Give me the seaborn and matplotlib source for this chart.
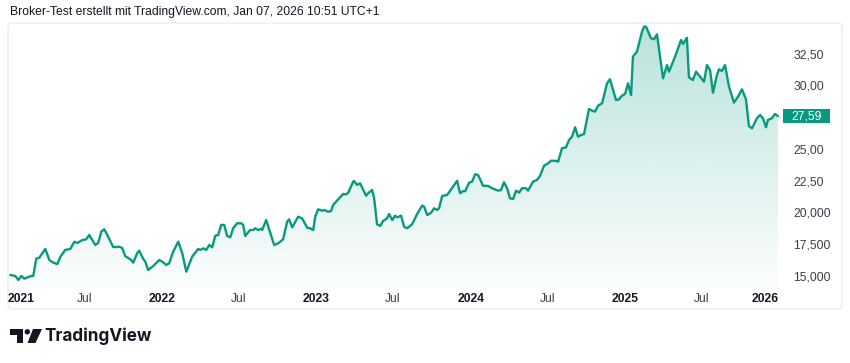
import numpy as np
import pandas as pd
import matplotlib
matplotlib.use("Agg")
import matplotlib.pyplot as plt
import matplotlib.transforms as mtrans
from matplotlib.patches import FancyBboxPatch, Rectangle, Polygon, Circle
from matplotlib.colors import to_rgb
import seaborn as sns

# ---------------- data ----------------
title = "Broker-Test erstellt mit TradingView.com, Jan 07, 2026 10:51 UTC+1"

years = [2021.015, 2021.047, 2021.067, 2021.086, 2021.106, 2021.132, 2021.151, 2021.164, 2021.183, 2021.203,
         2021.242, 2021.268, 2021.294, 2021.320, 2021.339, 2021.371, 2021.404, 2021.430, 2021.449, 2021.482,
         2021.507, 2021.527, 2021.566, 2021.585, 2021.605, 2021.624, 2021.644, 2021.682, 2021.702, 2021.721,
         2021.741, 2021.760, 2021.799, 2021.812, 2021.838, 2021.851, 2021.877, 2021.890, 2021.909, 2021.942,
         2021.981, 2022.000, 2022.026, 2022.045, 2022.071, 2022.104, 2022.130, 2022.156, 2022.194, 2022.233,
         2022.246, 2022.266, 2022.285, 2022.305, 2022.324, 2022.344, 2022.363, 2022.382, 2022.402, 2022.421,
         2022.441, 2022.460, 2022.486, 2022.512, 2022.525, 2022.538, 2022.570, 2022.590, 2022.603, 2022.622,
         2022.642, 2022.648, 2022.674, 2022.700, 2022.726, 2022.752, 2022.784, 2022.810, 2022.823, 2022.843,
         2022.881, 2022.907, 2022.940, 2022.959, 2022.979, 2022.992, 2023.011, 2023.037, 2023.050, 2023.076,
         2023.095, 2023.108, 2023.141, 2023.173, 2023.193, 2023.206, 2023.238, 2023.244, 2023.264, 2023.283,
         2023.322, 2023.335, 2023.361, 2023.374, 2023.393, 2023.413, 2023.432, 2023.458, 2023.471, 2023.491,
         2023.510, 2023.523, 2023.549, 2023.568, 2023.588, 2023.620, 2023.653, 2023.685, 2023.698, 2023.718,
         2023.743, 2023.763, 2023.782, 2023.795, 2023.815, 2023.847, 2023.860, 2023.912, 2023.931, 2023.951,
         2023.964, 2023.990, 2024.009, 2024.029, 2024.048, 2024.080, 2024.113, 2024.139, 2024.178, 2024.197,
         2024.216, 2024.236, 2024.255, 2024.275, 2024.294, 2024.314, 2024.333, 2024.359, 2024.372, 2024.404,
         2024.430, 2024.450, 2024.476, 2024.502, 2024.521, 2024.554, 2024.567, 2024.592, 2024.618, 2024.638,
         2024.657, 2024.677, 2024.696, 2024.716, 2024.735, 2024.767, 2024.787, 2024.806, 2024.826, 2024.852,
         2024.884, 2024.903, 2024.942, 2024.962, 2024.981, 2025.001, 2025.020, 2025.040, 2025.052, 2025.078,
         2025.111, 2025.124, 2025.137, 2025.169, 2025.189, 2025.208, 2025.247, 2025.273, 2025.286, 2025.325,
         2025.364, 2025.377, 2025.402, 2025.415, 2025.441, 2025.461, 2025.500, 2025.513, 2025.532, 2025.552,
         2025.571, 2025.597, 2025.610, 2025.629, 2025.649, 2025.675, 2025.707, 2025.733, 2025.759, 2025.785,
         2025.804, 2025.824, 2025.856, 2025.876, 2025.895, 2025.915, 2025.927, 2025.953, 2025.973, 2025.992]

prices = [15.08, 15.00, 14.69, 15.00, 14.79, 14.92, 15.00, 15.00, 16.36, 16.44,
          17.13, 16.26, 16.05, 15.94, 16.50, 17.05, 17.13, 17.70, 17.60, 17.83,
          17.89, 18.23, 17.44, 17.60, 18.49, 18.68, 18.23, 17.28, 17.28, 17.31,
          17.20, 16.57, 16.26, 16.05, 16.81, 16.99, 16.34, 16.13, 15.47, 15.79,
          16.26, 16.13, 15.87, 16.00, 16.91, 17.70, 16.79, 15.34, 16.52, 17.13,
          17.05, 17.18, 17.05, 17.44, 17.26, 18.17, 18.23, 19.02, 19.02, 18.15,
          18.05, 18.76, 19.15, 19.15, 19.02, 18.15, 18.62, 18.62, 18.76, 18.62,
          18.72, 18.62, 19.41, 18.41, 17.44, 17.57, 17.89, 19.28, 19.46, 18.83,
          19.67, 19.54, 18.80, 18.76, 18.62, 19.67, 20.25, 20.14, 20.20, 20.06,
          20.12, 20.59, 21.04, 21.46, 21.43, 21.56, 22.43, 22.48, 22.17, 22.30,
          21.32, 21.51, 21.77, 21.12, 19.07, 18.94, 19.33, 19.54, 19.88, 19.41,
          19.75, 19.62, 19.75, 18.88, 18.76, 19.07, 19.88, 20.54, 20.46, 19.80,
          19.98, 20.33, 20.20, 20.33, 21.30, 21.38, 21.59, 22.50, 21.51, 21.69,
          21.67, 22.35, 22.43, 23.01, 22.95, 22.11, 22.09, 21.91, 21.72, 21.77,
          22.38, 21.91, 21.12, 21.06, 21.72, 21.56, 21.91, 21.91, 21.72, 22.43,
          22.56, 22.90, 23.69, 23.87, 24.08, 24.06, 24.00, 25.06, 25.13, 25.71,
          25.97, 26.71, 25.97, 26.10, 26.18, 28.15, 28.02, 27.94, 28.41, 28.60,
          30.17, 30.49, 28.86, 28.91, 29.20, 29.33, 30.17, 29.25, 32.27, 32.66,
          34.24, 34.63, 34.63, 33.72, 33.64, 34.03, 30.57, 31.61, 31.09, 32.27,
          33.58, 33.27, 33.76, 30.65, 30.43, 31.09, 30.49, 30.30, 31.61, 31.22,
          29.43, 30.83, 31.28, 31.14, 31.61, 29.91, 28.65, 29.12, 29.70, 28.91,
          26.81, 26.63, 27.42, 27.68, 27.42, 26.71, 27.28, 27.42, 27.76, 27.59]

last_price = 27.59
last_label = "27,59"

ytick_vals = [15, 17.5, 20, 22.5, 25, 30, 32.5]
ytick_labels = ["15,000", "17,500", "20,000", "22,50", "25,00", "30,00", "32,50"]

xtick_vals = [2021.0, 2021.496, 2022.0, 2022.496, 2023.0, 2023.496,
              2024.0, 2024.497, 2025.0, 2025.496, 2026.0]
xtick_labels = ["2021", "Jul", "2022", "Jul", "2023", "Jul",
                "2024", "Jul", "2025", "Jul", "2026"]

# ---------------- style ----------------
LINE = "#089981"
TXT = "#131722"
YTXT = "#3b3f4a"

sns.set_theme(style="white")
plt.rcParams["font.family"] = ["Liberation Sans", "DejaVu Sans"]

W, H = 850, 363
fig = plt.figure(figsize=(W / 100, H / 100), dpi=100)
fig.patch.set_facecolor("white")


def fx(px):
    return px / W


def fy(py):
    return 1 - py / H


# outer chart frame (pixel coordinates), outline only
frame = FancyBboxPatch((8, H - 309), 834, 286,
                       boxstyle="round,pad=0,rounding_size=4",
                       transform=mtrans.IdentityTransform(),
                       fc="none", ec="#e9ebf0", lw=0.9, zorder=-1)
fig.patches.append(frame)

# price pane
ax = fig.add_axes([fx(8), fy(288), fx(783) - fx(8), fy(23) - fy(288)])
ax.patch.set_alpha(0)
ax.set_zorder(2)

xmin, xmax = 2021.002, 2026.025
ymin, ymax = 14.055, 34.92

df = pd.DataFrame({"date": years, "price": prices})

sns.lineplot(data=df, x="date", y="price", ax=ax, color=LINE,
             linewidth=1.7, zorder=3, legend=False)

# gradient area fill
fill = ax.fill_between(df["date"], df["price"], ymin, color="none", lw=0)
grad = np.zeros((256, 1, 4))
grad[..., :3] = to_rgb(LINE)
grad[:, 0, 3] = np.linspace(0.28, 0.015, 256)
im = ax.imshow(grad, extent=[df["date"].min(), df["date"].max(), ymin, df["price"].max()],
               aspect="auto", origin="upper", zorder=2, interpolation="bilinear")
im.set_clip_path(fill.get_paths()[0], transform=ax.transData)

ax.set_xlim(xmin, xmax)
ax.set_ylim(ymin, ymax)
ax.set_xlabel("")
ax.set_ylabel("")
for s in ax.spines.values():
    s.set_visible(False)

ax.set_xticks(xtick_vals, xtick_labels)
ax.yaxis.tick_right()
ax.set_yticks(ytick_vals, ytick_labels)
ax.tick_params(axis="x", length=0, pad=3.5, labelsize=8.7, colors=TXT)
ax.tick_params(axis="y", length=0, pad=7.5, labelsize=8.7, colors=YTXT)
ax.grid(False)

xl = ax.get_xticklabels()
for i, lab in enumerate(xl):
    if lab.get_text() != "Jul":
        lab.set_fontweight("bold")
    else:
        lab.set_color("#3b3f4a")
xl[0].set_ha("left")
xl[-1].set_ha("right")

# last price label
bt = mtrans.blended_transform_factory(ax.transAxes, ax.transData)
box_h = 0.57
ax.add_patch(Rectangle((1.0, last_price - box_h), 47 / 775, 2 * box_h,
                       transform=bt, clip_on=False, fc=LINE, ec="none", zorder=5))
ax.text(1.0 + 23.5 / 775, last_price, last_label, transform=bt, ha="center",
        va="center", color="white", fontsize=8.7, zorder=6)

# title
fig.text(fx(10), fy(12), title, ha="left", va="center", fontsize=8.7, color=TXT)

# TradingView logo
lax = fig.add_axes([fx(10), fy(344), fx(43) - fx(10), fy(328) - fy(344)])
lax.set_xlim(10, 43)
lax.set_ylim(344, 328)
lax.axis("off")
lax.add_patch(Polygon([(10, 329), (23, 329), (23, 343), (17, 343), (17, 334.5), (10, 334.5)],
                      closed=True, fc="#131722", ec="none"))
lax.add_patch(Circle((27.3, 331.8), 2.7, fc="#131722", ec="none"))
lax.add_patch(Polygon([(33, 329), (42, 329), (35.5, 343), (27.5, 343)],
                      closed=True, fc="#131722", ec="none"))
fig.text(fx(44.5), fy(336.5), "TradingView", ha="left", va="center",
         fontsize=12.3, fontweight="bold", color="#131722",
         family=["Inter", "DejaVu Sans"])

fig.savefig("out.png", dpi=100)
